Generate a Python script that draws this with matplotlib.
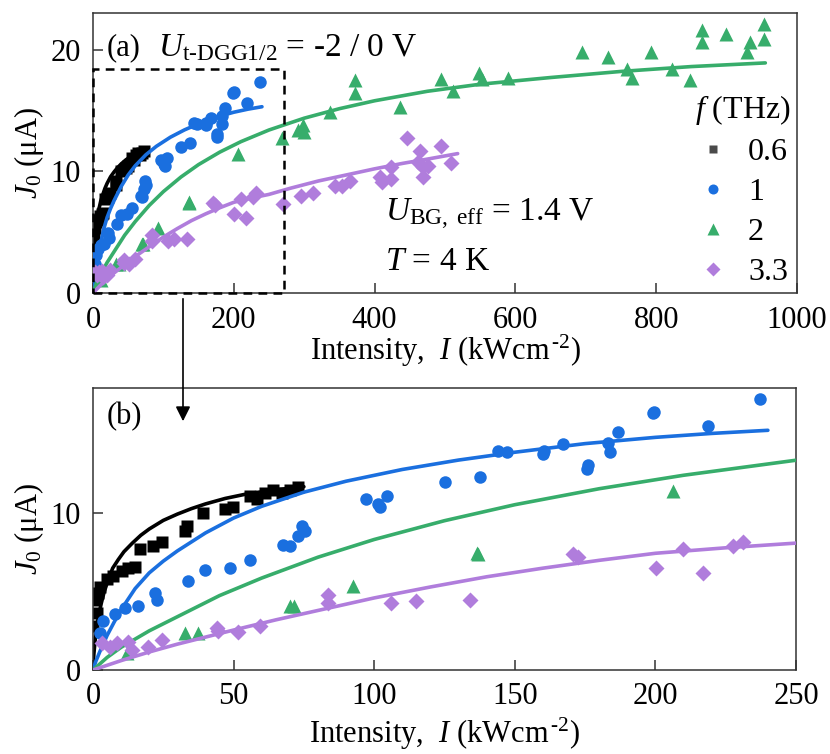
import matplotlib
matplotlib.use("Agg")
import matplotlib.pyplot as plt
from matplotlib.lines import Line2D
from matplotlib.patches import Rectangle, FancyArrowPatch

plt.rcParams['font.family'] = ['Liberation Serif', 'DejaVu Serif']
plt.rcParams['mathtext.fontset'] = 'custom'
plt.rcParams['mathtext.rm'] = 'Liberation Serif'
plt.rcParams['mathtext.it'] = 'Liberation Serif:italic'
plt.rcParams['mathtext.bf'] = 'Liberation Serif:bold'

# ---------------- data ----------------
freq_labels = ["0.6", "1", "2", "3.3"]
colors = ["#000000", "#1a6fdf", "#37ad6b", "#b07ddc"]
legend_colors = ["#4a4a4a", "#1a6fdf", "#37ad6b", "#b07ddc"]
markers = ["s", "o", "^", "D"]

# 0.6 THz (black squares)
black_I = [0.1, 0.7, 1.3, 1.9, 2.5, 4.9, 7.2, 10.2, 12.6, 14.9, 16.7, 21.4, 24.4,
           32.7, 33.3, 39.2, 46.9, 49.9, 55.8, 58.2, 61.2, 64.1, 67.1, 70.0, 73.0]
black_J = [2.8, 4.5, 3.65, 4.9, 5.3, 5.8, 6.0, 6.3, 6.5, 6.6, 7.7, 7.9, 8.2,
           8.9, 9.2, 10.0, 10.25, 10.4, 11.1, 10.9, 11.3, 11.5, 11.3, 11.5, 11.65]

# 1 THz (blue circles)
blue_I = [2.5, 3.7, 7.8, 11.4, 16.1, 22.0, 22.6, 33.9, 39.8, 48.7, 55.8, 67.7, 70.0,
          73.0, 74.2, 75.4, 97.1, 101.5, 102.0, 104.7, 125.2, 137.8, 144.1, 147.1,
          160.0, 160.5, 167.2, 175.5, 176.1, 183.2, 183.9, 186.8, 199.0, 199.6,
          218.8, 237.2]
blue_J = [2.35, 3.1, 3.6, 3.95, 4.06, 4.9, 4.5, 5.66, 6.37, 6.5, 7.0, 8.0, 7.9,
          8.55, 9.2, 8.9, 10.9, 10.6, 10.4, 11.1, 12.0, 12.3, 14.0, 13.9,
          13.8, 14.0, 14.4, 12.8, 13.1, 14.5, 13.9, 15.2, 16.4, 16.5,
          15.6, 17.3]

# 2 THz (green triangles)
green_I = [12.0, 32.7, 37.5, 70.0, 71.5, 92.3, 136.4, 137.0, 206.4, 268.0, 291.7,
           298.7, 299.7, 336.6, 372.0, 372.0, 436.0, 495.0, 512.0, 549.0, 552.0,
           590.0, 694.0, 732.0, 758.0, 765.0, 793.0, 823.0, 848.0, 865.5, 865.5,
           899.0, 928.5, 933.0, 953.0, 953.0]
green_J = [1.1, 2.35, 2.35, 4.06, 4.06, 5.34, 7.5, 7.4, 11.4, 12.7, 13.4,
           13.8, 13.2, 14.9, 17.5, 16.4, 15.3, 17.6, 16.6, 18.1, 17.6,
           17.7, 19.8, 19.4, 18.4, 17.7, 19.8, 18.4, 17.5, 21.6, 20.6,
           21.3, 19.8, 20.6, 22.1, 20.9]

# 3.3 THz (purple diamonds)
purple_I = [3.1, 6.0, 8.4, 12.6, 13.8, 19.7, 24.4, 44.0, 44.6, 51.7, 59.4, 83.7,
            83.7, 106.0, 114.9, 134.0, 170.6, 172.6, 200.2, 209.7, 216.8, 227.7,
            231.0, 270.0, 296.0, 313.0, 344.0, 353.0, 365.0, 408.0, 410.0, 424.0,
            424.0, 445.6, 464.5, 462.0, 469.0, 476.0, 469.0, 495.0, 508.0]
purple_J = [1.7, 1.5, 1.7, 1.8, 1.3, 1.5, 1.9, 2.7, 2.5, 2.4, 2.8, 4.8,
            4.3, 4.27, 4.4, 4.45, 7.4, 7.2, 6.5, 7.7, 6.2, 7.9,
            8.2, 7.35, 8.0, 8.25, 8.8, 8.8, 9.2, 9.5, 9.1, 9.4,
            10.35, 12.7, 11.7, 10.76, 10.35, 10.4, 9.5, 12.1, 10.7]

# fit curves
black_fit_I = [0, 0.3, 0.7, 1.2, 2, 3, 4, 5.5, 7, 9, 11, 14, 17, 20, 25, 30, 35,
               40, 47, 55, 65, 75]
black_fit_J = [0, 1.0, 1.8, 2.6, 3.5, 4.3, 5.0, 5.8, 6.5, 7.05, 7.55, 8.1, 8.6,
               9.0, 9.55, 9.95, 10.3, 10.6, 10.95, 11.25, 11.5, 11.7]

blue_fit_I = [0, 1, 2.5, 5, 7.5, 10, 15, 20, 25, 30, 40, 50, 60, 75, 90, 110, 130,
              150, 175, 200, 220, 240]
blue_fit_J = [0, 0.55, 1.2, 2.2, 3.05, 3.85, 5.2, 6.2, 6.95, 7.6, 8.75, 9.7, 10.45,
              11.35, 12.05, 12.8, 13.4, 13.9, 14.45, 14.85, 15.1, 15.3]

green_fit_I = [0, 5, 10, 20, 30, 45, 60, 80, 100, 125, 150, 180, 210, 250, 300, 350,
               400, 475, 550, 650, 750, 850, 955]
green_fit_J = [0, 0.8, 1.45, 2.5, 3.4, 4.75, 5.87, 7.2, 8.33, 9.53, 10.55, 11.57,
               12.43, 13.39, 14.36, 15.14, 15.79, 16.57, 17.15, 17.7, 18.2, 18.6,
               18.9]

purple_fit_I = [0, 10, 20, 30, 40, 50, 65, 80, 100, 120, 140, 160, 180, 200, 225,
                250, 280, 320, 360, 400, 440, 480, 518]
purple_fit_J = [0, 0.6, 1.15, 1.65, 2.1, 2.55, 3.2, 3.8, 4.6, 5.3, 5.95, 6.5, 7.0,
                7.45, 7.8, 8.1, 8.6, 9.2, 9.7, 10.2, 10.65, 11.05, 11.45]

series_I = [black_I, blue_I, green_I, purple_I]
series_J = [black_J, blue_J, green_J, purple_J]
fits_I = [black_fit_I, blue_fit_I, green_fit_I, purple_fit_I]
fits_J = [black_fit_J, blue_fit_J, green_fit_J, purple_fit_J]

xticks_a = [0, 200, 400, 600, 800, 1000]
yticks_a = [0, 10, 20]
xticks_b = [0, 50, 100, 150, 200, 250]
yticks_b = [0, 10]

zoom_box = (272, 18.4)  # extent of dashed zoom box in panel (a)

# ---------------- figure ----------------
W, H = 830, 754
fig = plt.figure(figsize=(W / 100, H / 100), dpi=100)

def ax_rect(l, t, r, b):
    return [l / W, 1 - b / H, (r - l) / W, (b - t) / H]

ax_a = fig.add_axes(ax_rect(93, 13, 797, 293))
ax_b = fig.add_axes(ax_rect(93, 388, 796, 670))

msizes = [8.0, 9.0, 10.0, 8.5]
FS = 22
FS_ANN = 24

for ax in (ax_a, ax_b):
    for i in range(4):
        ax.plot(series_I[i], series_J[i], linestyle='none', marker=markers[i],
                color=colors[i], ms=msizes[i], mec='none', zorder=2 + i)
        ax.plot(fits_I[i], fits_J[i], color=colors[i], lw=2.6, zorder=2.5 + i,
                solid_capstyle='round', solid_joinstyle='round')
    for s in ax.spines.values():
        s.set_color('#333333')
        s.set_linewidth(1.1)
    ax.tick_params(direction='in', length=7, width=1.1, color='#333333',
                   labelsize=FS, pad=9, top=False, right=False)

ax_a.set_xlim(0, 1000)
ax_a.set_ylim(0, 23)
ax_a.set_xticks(xticks_a)
ax_a.set_yticks(yticks_a)
ax_b.set_xlim(0, 250)
ax_b.set_ylim(0, 18)
ax_b.set_xticks(xticks_b)
ax_b.set_yticks(yticks_b)

xlabel = r"Intensity,  $I$ (kWcm$^{\,\text{-2}}$)"
ylabel = r"$J_0$ (μA)"
ax_a.set_xlabel(xlabel, fontsize=FS, labelpad=-1)
ax_b.set_xlabel(xlabel, fontsize=FS, labelpad=3)
for ax in (ax_a, ax_b):
    ax.set_ylabel(ylabel, fontsize=FS, labelpad=3)

# dashed zoom box
ax_a.add_patch(Rectangle((0, 0), zoom_box[0], zoom_box[1], fill=False,
                         linestyle=(0, (3.5, 2.5)), lw=1.8, edgecolor='black',
                         zorder=10, clip_on=False))

# arrow from panel (a) to panel (b)
fig.add_artist(FancyArrowPatch((183 / W, 1 - 296 / H), (183 / W, 1 - 424 / H),
                               transform=fig.transFigure, arrowstyle='-|>',
                               mutation_scale=22, lw=1.2, color='black'))

# annotations
ax_a.text(0.02, 0.875, "(a)", transform=ax_a.transAxes, fontsize=FS, va='center')
ax_a.text(0.093, 0.875, r"$U_{\mathrm{t\text{-}DGG1/2}}$ = -2 / 0 V",
          transform=ax_a.transAxes, fontsize=FS_ANN, va='center')
ax_a.text(0.415, 0.28, r"$U_{\mathrm{BG,\ eff}}$ = 1.4 V", transform=ax_a.transAxes,
          fontsize=FS_ANN, va='center')
ax_a.text(0.415, 0.11, r"$T$ = 4 K", transform=ax_a.transAxes, fontsize=FS_ANN,
          va='center')
ax_b.text(0.02, 0.9, "(b)", transform=ax_b.transAxes, fontsize=FS, va='center')

handles = [Line2D([], [], linestyle='none', marker=markers[i], color=legend_colors[i],
                  ms=msizes[i] * 0.8, mec='none') for i in range(4)]
leg = ax_a.legend(handles, freq_labels, title=r"$f$ (THz)", loc='upper right',
                  bbox_to_anchor=(0.995, 0.725), frameon=False, fontsize=FS + 1,
                  title_fontsize=FS + 1, handlelength=1.0, handletextpad=0.6,
                  labelspacing=0.33, borderpad=0.1, borderaxespad=0)

fig.savefig("out.png", dpi=100)
